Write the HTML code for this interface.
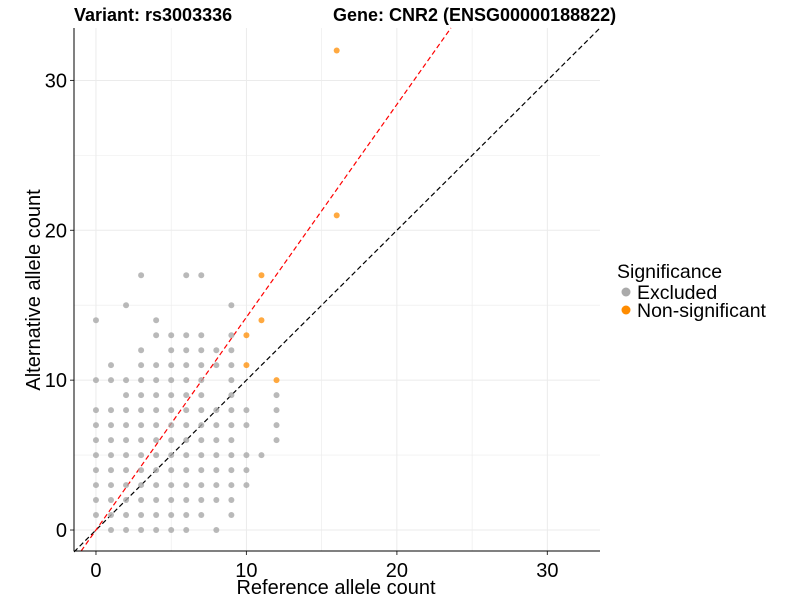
<!DOCTYPE html>
<html><head><meta charset="utf-8"><style>
body{margin:0;background:#fff;font-family:"Liberation Sans",Arial,sans-serif;}
svg text{font-family:"Liberation Sans",Arial,sans-serif;}
</style></head><body>
<svg id="chart" width="800" height="600">
<text x="74" y="21" font-size="18" font-weight="bold">Variant: rs3003336</text>
<text x="333" y="21" font-size="18" font-weight="bold">Gene: CNR2 (ENSG00000188822)</text>
<g id="grid"></g><g id="lines"></g><g id="pts"></g><g id="axes"></g>
<text x="336" y="594" font-size="20" text-anchor="middle">Reference allele count</text>
<text transform="translate(40,290) rotate(-90)" font-size="20" text-anchor="middle">Alternative allele count</text>
<g>
<text x="617" y="278" font-size="19.5">Significance</text>
<circle cx="626" cy="292" r="4.5" fill="#aaaaaa"/>
<text x="637" y="299" font-size="19.5">Excluded</text>
<circle cx="626" cy="310" r="4.5" fill="#ff8c00"/>
<text x="637" y="317" font-size="19.5">Non-significant</text>
</g>
</svg>
<script>
const xTicks=[0,10,20,30];
const yTicks=[0,10,20,30];
const excludedRows={17:[3,6,7],15:[2,9],14:[0,4],13:[4,5,6,7,9],12:[3,5,6,7,8,9],11:[1,3,4,5,6,7,8,9],10:[0,1,2,3,4,5,6,7,9],9:[2,3,4,5,6,7,9,12],8:[0,1,2,3,4,5,6,7,8,9,10,12],7:[0,1,2,3,4,5,6,7,8,9,10,12],6:[0,1,2,3,4,5,6,7,8,9,12],5:[0,1,2,3,4,5,6,7,8,9,10,11],4:[0,1,2,3,4,5,6,7,8,9,10],3:[0,1,2,3,4,5,6,7,8,9,10],2:[0,1,2,3,4,5,6,7,8,9],1:[0,1,2,3,4,5,6,7,9],0:[1,2,3,4,5,6,8]};
const nonsigX=[11,11,10,10,12,16,16];
const nonsigY=[17,14,13,11,10,21,32];
const refSlope=1.42;
const L=74,R=600,T=28,B=551,x0=-1.46,x1=33.5,y0=-1.4,y1=33.5;
const sx=v=>L+(v-x0)/(x1-x0)*(R-L);
const sy=v=>B-(v-y0)/(y1-y0)*(B-T);
const NS="http://www.w3.org/2000/svg";
function mk(t,a,p){const e=document.createElementNS(NS,t);for(const k in a)e.setAttribute(k,a[k]);p.appendChild(e);return e;}
const grid=document.getElementById('grid'),axes=document.getElementById('axes'),lines=document.getElementById('lines'),pts=document.getElementById('pts');
for(let v=-0;v<=35;v+=5){
 if(sx(v)<=R){const g=mk('line',{x1:sx(v),x2:sx(v),y1:T,y2:B,stroke:'#ebebeb','stroke-width':v%10?0.6:1},grid);
 
 }
 if(sy(v)>=T){const g=mk('line',{x1:L,x2:R,y1:sy(v),y2:sy(v),stroke:'#ebebeb','stroke-width':v%10?0.6:1},grid);
 
 }
}
xTicks.forEach(v=>{const t=mk('text',{x:sx(v),y:577,'font-size':20,'text-anchor':'middle',fill:'#000'},axes);t.textContent=v;


const k=mk('line',{x1:sx(v),x2:sx(v),y1:B,y2:B+4,stroke:'#333'},axes);

});
yTicks.forEach(v=>{const t=mk('text',{x:67,y:sy(v)+7,'font-size':20,'text-anchor':'end',fill:'#000'},axes);t.textContent=v;


const k=mk('line',{x1:L-4,x2:L,y1:sy(v),y2:sy(v),stroke:'#333'},axes);

});
const ax=mk('line',{x1:L,x2:R,y1:B,y2:B,stroke:'#000','stroke-width':1},axes);


const ay=mk('line',{x1:L,x2:L,y1:T,y2:B,stroke:'#000','stroke-width':1},axes);


const ex=Math.min(x1,y1);
const d1=mk('line',{x1:sx(x0),y1:sy(x0),x2:sx(ex),y2:sy(ex),stroke:'#000','stroke-dasharray':'5,3','stroke-width':1.2},lines);


const rx0=y0/refSlope,rx1=y1/refSlope;
const d2=mk('line',{x1:sx(rx0),y1:sy(y0),x2:sx(rx1),y2:sy(y1),stroke:'#ff0000','stroke-dasharray':'5,3','stroke-width':1.2},lines);


for(const y in excludedRows){excludedRows[y].forEach(x=>{const c=mk('circle',{cx:sx(x),cy:sy(+y),r:3,fill:'#a8a8a8','fill-opacity':0.8},pts);

});}
nonsigX.forEach((x,i)=>{const c=mk('circle',{cx:sx(x),cy:sy(nonsigY[i]),r:3,fill:'#ff8c00','fill-opacity':0.75},pts);

});
</script>
</body></html>
